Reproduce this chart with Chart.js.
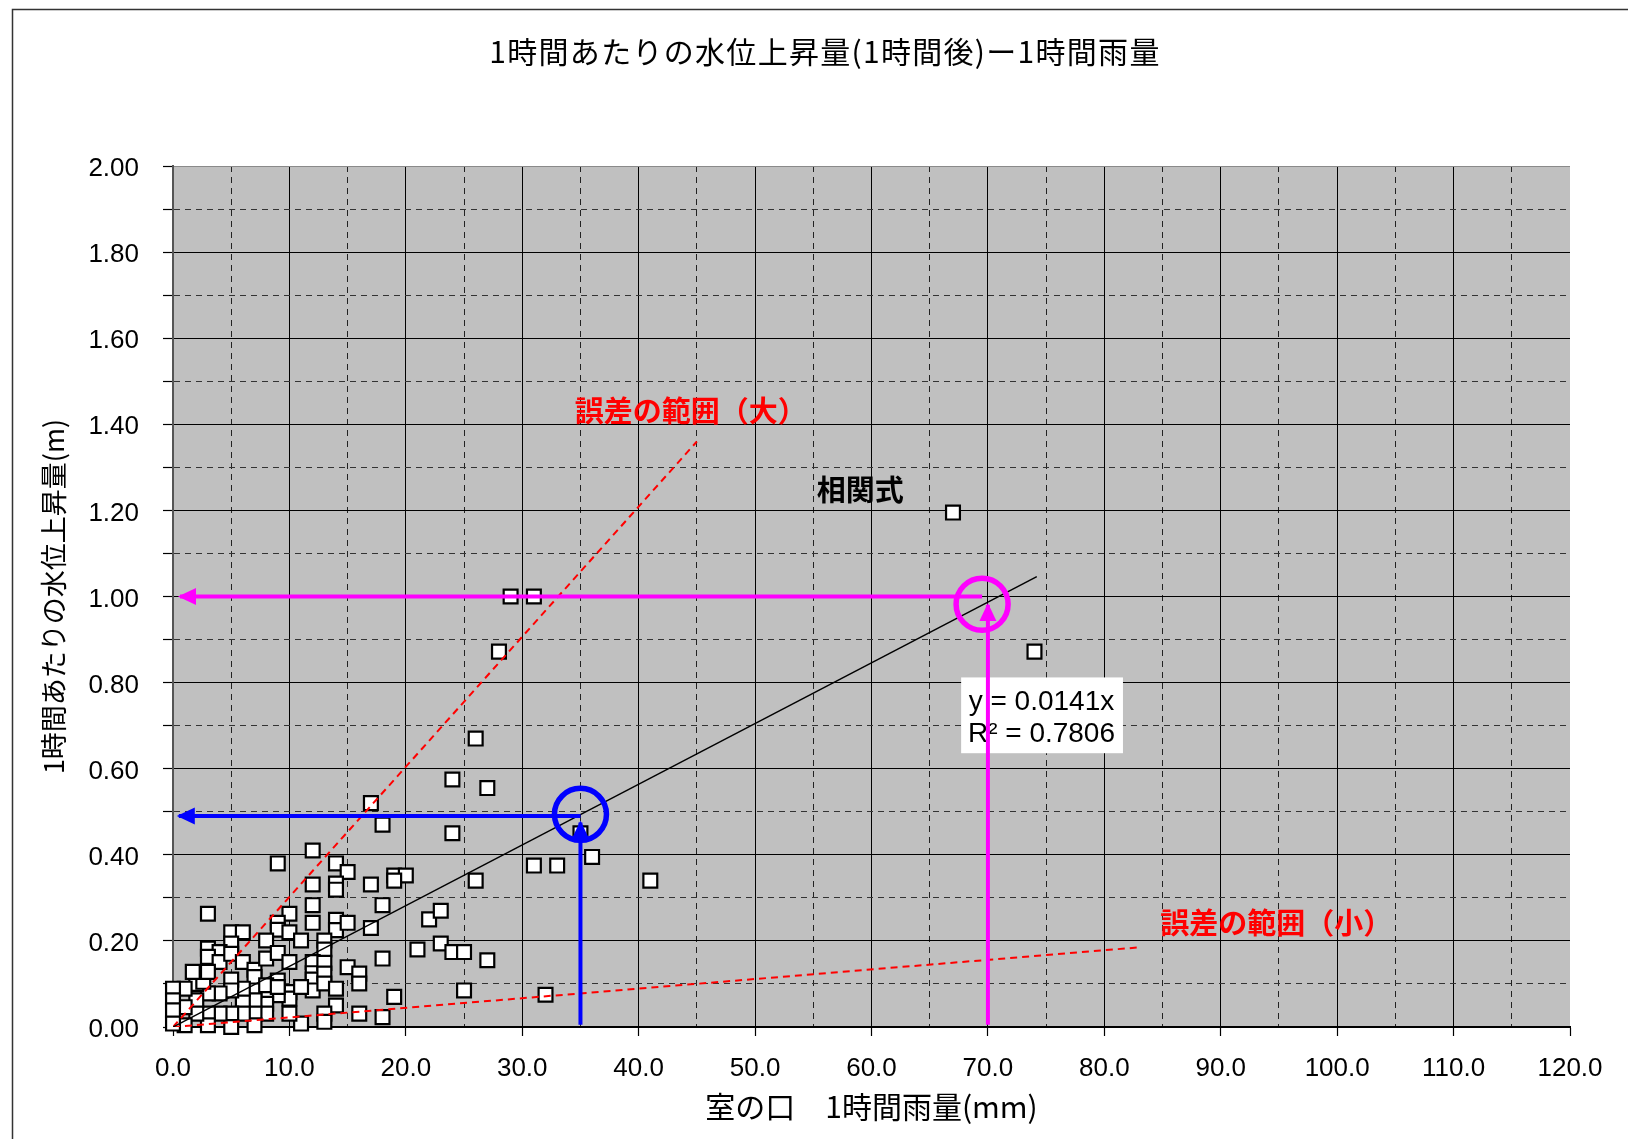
<!DOCTYPE html>
<html><head><meta charset="utf-8">
<script src="https://cdn.jsdelivr.net/npm/chart.js@4.4.1/dist/chart.umd.min.js"></script>
<style>html,body{margin:0;padding:0;background:#fff;}#wrap{width:1628px;height:1139px;position:relative;}</style>
</head><body><div id="wrap"><canvas id="c" width="1628" height="1139"></canvas></div>
<script>
const chartTitle = '1時間あたりの水位上昇量(1時間後)ー1時間雨量';
const xAxisTitle = '室の口　1時間雨量(mm)';
const yAxisTitle = '1時間あたりの水位上昇量(m)';
const labelLarge = '誤差の範囲（大）';
const labelSmall = '誤差の範囲（小）';
const labelCorr = '相関式';
const eqLine1 = 'y = 0.0141x';
const eqLine2 = 'R² = 0.7806';

// observed points: 1-hour rainfall (mm) and 1-hour water level rise (m)
const rainfall = [67,74,29,31,28,26,24,27,17,18,24,35,36,31,33,41,26,9,12,14,15,14,14,17,19,20,19,12,18,12,
  22,23,23,24,25,21,27,25,32,19,18,16,18,17,3,10,12,14,14,15,9,9,10,11,13,13,8,5,6,5,
  3,4,3,4,5,6,7,8,9,10,12,12,12,12,13,13,13,15,16,16,14,14,13,13,11,10,10,10,9,9,
  8,8,8,7,7,7,7,7,6,6,6,5,5,5,5,4,4,3,3,3,2,2,2,1,1,1,0,0,0,0,2.6,1.7,3,8,9,11];
const rise = [1.195,0.872,1.00,1.00,0.872,0.67,0.575,0.555,0.52,0.47,0.45,0.45,0.395,0.375,0.375,0.34,0.34,0.38,0.41,0.38,0.36,0.333,0.319,0.331,0.352,0.352,0.34,0.331,0.283,0.283,
  0.25,0.27,0.194,0.174,0.174,0.18,0.155,0.085,0.075,0.07,0.159,0.031,0.023,0.23,0.263,0.263,0.242,0.249,0.225,0.242,0.242,0.226,0.22,0.201,0.201,0.18,0.201,0.22,0.22,0.194,
  0.182,0.174,0.163,0.151,0.17,0.151,0.133,0.159,0.172,0.151,0.151,0.125,0.11,0.085,0.149,0.124,0.101,0.139,0.124,0.101,0.089,0.05,0.031,0.012,0.008,0.081,0.066,0.031,0.108,0.074,
  0.071,0.054,0.031,0.116,0.085,0.062,0.031,0.004,0.062,0.031,0.089,0.11,0.085,0.031,0.0,0.078,0.031,0.078,0.031,0.004,0.1,0.062,0.031,0.089,0.046,0.004,0.089,0.062,0.039,0.008,0.105,0.128,0.128,0.097,0.093,0.093];

// trend line y = 0.0141x and error-range lines (end points)
const trendX = [0, 74.2];
const trendY = [0, 1.046];
const errLargeX = [0, 45];
const errLargeY = [0, 1.36];
const errSmallX = [0, 83];
const errSmallY = [0, 0.185];

// arrows and rings
const blueHX = [35, 0.5];   const blueHY = [0.49, 0.49];
const blueVX = [35, 35];    const blueVY = [0.005, 0.475];
const magHX = [69.5, 0.6];  const magHY = [1.0, 1.0];
const magVX = [70, 70];     const magVY = [0.005, 0.98];
const blueRing = [35, 0.494];
const magRing = [69.5, 0.982];

// axis ranges / ticks
const xMin = 0, xMax = 120, xStep = 5;
const yMin = 0, yMax = 2, yStep = 0.1;

// text anchor positions (data units)
const largePos = [34.5, 1.43];
const smallPos = [84.8, 0.241];
const corrPos = [55.3, 1.247];
const eqBox = [67.7, 0.812, 81.6, 0.636];
const eqTextPos = [74.6, 0.755, 0.681];

const zip = (xs, ys) => xs.map((x, i) => ({x, y: ys[i]}));
const BLUE = '#0000FF', MAG = '#FF00FF';
const JP = '"Noto Sans CJK JP", sans-serif';
const LAT = '"Liberation Sans", Arial, sans-serif';

function lineDs(xs, ys, color, width, dash, order, arrow) {
  return {data: zip(xs, ys), showLine: true, borderColor: color, backgroundColor: color,
    borderWidth: width, borderDash: dash || [], pointRadius: 0, pointHoverRadius: 0,
    order: order, arrowHead: !!arrow, borderCapStyle: 'butt'};
}
function ringDs(p, color) {
  return {data: [{x: p[0], y: p[1]}], showLine: false, pointStyle: 'circle', pointRadius: 26,
    pointHoverRadius: 26, pointBorderWidth: 5.5, pointBorderColor: color,
    pointBackgroundColor: 'rgba(0,0,0,0)', borderColor: color, backgroundColor: 'rgba(0,0,0,0)', order: 0};
}

const bgPlugin = {
  id: 'bg',
  beforeDraw(chart) {
    const {ctx, chartArea: a} = chart;
    ctx.save();
    ctx.fillStyle = '#fff';
    ctx.fillRect(0, 0, chart.width, chart.height);
    ctx.strokeStyle = '#333';
    ctx.lineWidth = 1.5;
    ctx.strokeRect(12.5, 9.5, 1700, 1300);
    ctx.fillStyle = '#C0C0C0';
    ctx.fillRect(a.left, a.top, a.right - a.left, a.bottom - a.top);
    // chart title
    ctx.fillStyle = '#000';
    ctx.font = '30px ' + JP;
    try { ctx.letterSpacing = '1.3px'; } catch (e) {}
    ctx.textAlign = 'center';
    ctx.textBaseline = 'middle';
    ctx.fillText(chartTitle, 825, 52);
    ctx.restore();
  },
  beforeDatasetsDraw(chart) {
    const {ctx, scales: {x, y}} = chart;
    ctx.save();
    const l = x.getPixelForValue(eqBox[0]), t = y.getPixelForValue(eqBox[1]);
    const r = x.getPixelForValue(eqBox[2]), b = y.getPixelForValue(eqBox[3]);
    ctx.fillStyle = '#fff';
    ctx.fillRect(l, t, r - l, b - t);
    ctx.fillStyle = '#000';
    ctx.font = '28px ' + LAT;
    ctx.textAlign = 'center';
    ctx.textBaseline = 'middle';
    const cx = x.getPixelForValue(eqTextPos[0]);
    ctx.fillText(eqLine1, cx, y.getPixelForValue(eqTextPos[1]));
    ctx.fillText(eqLine2, cx, y.getPixelForValue(eqTextPos[2]));
    ctx.font = 'bold 29px ' + JP;
    ctx.textAlign = 'left';
    ctx.fillStyle = '#FF0000';
    ctx.fillText(labelLarge, x.getPixelForValue(largePos[0]), y.getPixelForValue(largePos[1]));
    ctx.fillText(labelSmall, x.getPixelForValue(smallPos[0]), y.getPixelForValue(smallPos[1]));
    ctx.fillStyle = '#000';
    ctx.fillText(labelCorr, x.getPixelForValue(corrPos[0]), y.getPixelForValue(corrPos[1]));
    ctx.restore();
  },
  afterDatasetsDraw(chart) {
    const ctx = chart.ctx;
    chart.data.datasets.forEach((ds, i) => {
      if (!ds.arrowHead) return;
      const pts = chart.getDatasetMeta(i).data;
      const a = pts[pts.length - 2], b = pts[pts.length - 1];
      const ang = Math.atan2(b.y - a.y, b.x - a.x);
      const L = 18, W = 8.5;
      const c = Math.cos(ang), s = Math.sin(ang);
      const tx = b.x + c * 2, ty = b.y + s * 2;
      ctx.save();
      ctx.fillStyle = ds.borderColor;
      ctx.beginPath();
      ctx.moveTo(tx, ty);
      ctx.lineTo(tx - L * c - W * s, ty - L * s + W * c);
      ctx.lineTo(tx - L * c + W * s, ty - L * s - W * c);
      ctx.closePath();
      ctx.fill();
      ctx.restore();
    });
  }
};

const isMajorX = v => Math.round(v) % 10 === 0;
const isMajorY = v => Math.round(v * 10) % 2 === 0;

new Chart(document.getElementById('c'), {
  type: 'scatter',
  data: {
    datasets: [
      {data: zip(rainfall, rise), pointStyle: 'rect', pointRadius: 9.8, pointHoverRadius: 9.8,
        pointBackgroundColor: '#fff', pointBorderColor: '#000', pointBorderWidth: 2.2, order: 10, clip: false},
      lineDs(trendX, trendY, '#000', 1.5, [], 5),
      lineDs(errLargeX, errLargeY, '#FF0000', 2, [7, 5], 5),
      lineDs(errSmallX, errSmallY, '#FF0000', 2, [7, 5], 5),
      lineDs(blueHX, blueHY, BLUE, 4, [], 1, true),
      lineDs(blueVX, blueVY, BLUE, 4, [], 1, true),
      lineDs(magHX, magHY, MAG, 4, [], 1, true),
      lineDs(magVX, magVY, MAG, 4, [], 1, true),
      ringDs(blueRing, BLUE),
      ringDs(magRing, MAG)
    ]
  },
  options: {
    responsive: false,
    animation: false,
    events: [],
    layout: {padding: {top: 166, right: 58, left: 0, bottom: 0}},
    plugins: {legend: {display: false}, tooltip: {enabled: false}, title: {display: false}},
    scales: {
      x: {
        type: 'linear', min: xMin, max: xMax,
        afterFit: s => { s.height = 112; },
        ticks: {stepSize: xStep, autoSkip: false, maxRotation: 0, color: '#000', padding: 17,
          font: {family: LAT, size: 26},
          callback: v => isMajorX(v) ? v.toFixed(1) : ''},
        grid: {
          color: c => (c.tick && c.tick.value >= xMax) ? 'rgba(0,0,0,0)' : (c.tick && isMajorX(c.tick.value) ? '#000' : '#222'),
          lineWidth: 1,
          tickColor: c => (c.tick && isMajorX(c.tick.value)) ? '#000' : 'rgba(0,0,0,0)',
          tickLength: 9, tickWidth: 1.2
        },
        border: {display: true, color: '#000', width: 2,
          dash: c => (c.tick && !isMajorX(c.tick.value)) ? [6, 5] : []},
        title: {display: true, text: xAxisTitle, color: '#000', font: {family: JP, size: 30},
          padding: {top: 0, bottom: 14}}
      },
      y: {
        type: 'linear', min: yMin, max: yMax,
        afterFit: s => { s.width = 173; },
        ticks: {stepSize: yStep, autoSkip: false, color: '#000', padding: 24, labelOffset: 3,
          font: {family: LAT, size: 26},
          callback: v => isMajorY(v) ? v.toFixed(2) : ''},
        grid: {
          color: c => {
            if (!c.tick) return '#000';
            if (c.tick.value >= yMax - 1e-9) return '#8a8a8a';
            return isMajorY(c.tick.value) ? '#000' : '#333';
          },
          lineWidth: 1,
          tickColor: '#000', tickLength: 10, tickWidth: 1.2
        },
        border: {display: true, color: '#555', width: 2,
          dash: c => (c.tick && !isMajorY(c.tick.value)) ? [6, 5] : []},
        title: {display: true, text: yAxisTitle, color: '#000', font: {family: JP, size: 27},
          padding: {top: 38, bottom: 0}}
      }
    }
  },
  plugins: [bgPlugin]
});
</script></body></html>
